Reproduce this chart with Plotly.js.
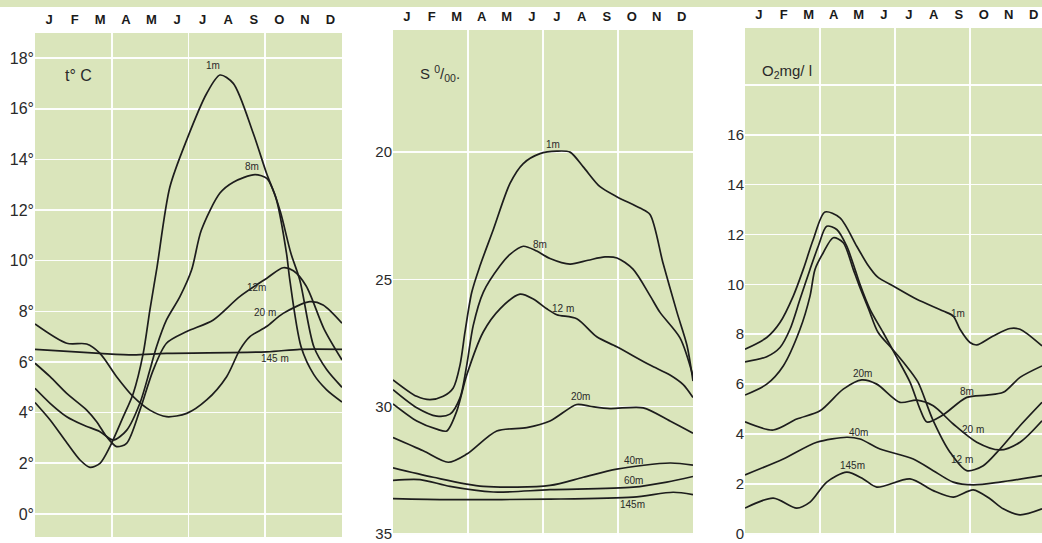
<!DOCTYPE html>
<html>
<head>
<meta charset="utf-8">
<script src="https://cdn.plot.ly/plotly-3.0.1.min.js"></script>
<style>
html,body{margin:0;padding:0;background:#fff;}
#chart{width:1042px;height:543px;}
</style>
</head>
<body>
<div id="chart"></div>
<script>
// ---------- data ----------
const months = ['J','F','M','A','M','J','J','A','S','O','N','D'];
const monthPos = [0.55,1.55,2.55,3.55,4.55,5.55,6.55,7.55,8.55,9.55,10.55,11.55];

// Temperature (°C)
const temp1mX = [0,0.6,1.25,1.76,2.15,2.54,2.93,3.45,3.84,4.23,4.49,4.77,5.27,5.93,6.71,7.23,7.75,8.53,9.05,9.44,9.83,9.96,10.4,10.9,11.4,12];
const temp1mY = [4.4,3.7,2.8,2.13,1.84,2.0,2.66,3.84,4.76,6.34,8.05,9.75,12.9,14.77,16.6,17.33,17.0,15.03,13.45,12.4,10.3,9.24,6.6,5.5,4.9,4.42];
const temp8mX = [0,0.59,1.24,1.89,2.54,3.06,3.58,4.1,4.49,4.75,5.14,5.66,6.12,6.5,7.23,7.75,8.6,9.06,9.3,9.6,10.0,10.35,10.9,11.4,12];
const temp8mY = [4.96,4.37,3.84,3.51,3.25,2.92,3.3,4.37,5.68,6.6,7.66,8.57,9.63,11.2,12.67,13.1,13.4,13.25,12.8,11.9,10.3,9.24,6.6,5.7,5.0];
const temp12mX = [0,0.59,1.24,2.02,2.41,2.8,3.19,3.58,4.1,4.62,5.14,5.93,6.97,8.0,9.05,9.7,10.1,10.6,11.3,12];
const temp12mY = [5.95,5.42,4.76,4.1,3.64,3.05,2.66,2.79,4.1,5.68,6.74,7.2,7.66,8.58,9.3,9.72,9.6,9.0,7.3,6.08];
const temp20mX = [0,1.24,2.02,2.54,3.19,3.84,4.49,5.14,5.93,6.71,7.49,8.0,8.4,9.05,9.7,10.74,11.26,12];
const temp20mY = [7.5,6.74,6.71,6.34,5.42,4.63,4.1,3.84,3.97,4.5,5.42,6.47,7.0,7.4,7.92,8.38,8.25,7.53];
const temp145mX = [0,2.54,3.84,5.14,9.05,10.35,12];
const temp145mY = [6.5,6.34,6.28,6.34,6.4,6.5,6.5];
const tempTicks = [0,2,4,6,8,10,12,14,16,18];
const tempTickText = ['0°','2°','4°','6°','8°','10°','12°','14°','16°','18°'];

// Salinity (‰)
const sal1mX = [0,0.95,1.48,2.01,2.41,2.68,2.88,3.15,3.48,4.01,4.68,5.21,5.88,6.55,7.08,7.61,8.28,8.95,9.88,10.28,10.8,11.36,11.76,12];
const sal1mY = [28.95,29.6,29.73,29.6,29.27,28.37,27.07,25.51,24.47,23.05,21.23,20.45,20.06,19.96,20.0,20.58,21.36,21.75,22.2,22.45,24.36,26.3,27.6,29.0];
const sal8mX = [0,0.95,1.75,2.28,2.68,2.95,3.21,3.61,4.28,4.68,5.21,5.75,6.28,7.08,7.8,8.48,8.96,9.6,10.28,10.68,11.48,12];
const sal8mY = [29.34,30.05,30.38,30.3,29.66,28.37,26.81,25.51,24.47,24.02,23.7,23.89,24.18,24.4,24.25,24.12,24.16,24.6,25.64,26.3,27.3,28.8];
const sal12mX = [0,0.95,1.75,2.15,2.55,2.95,3.61,4.28,5.08,5.61,6.15,6.55,7.35,8.15,8.95,10.28,11.08,11.61,12];
const sal12mY = [29.9,30.57,30.89,30.96,30.18,28.76,27.07,26.16,25.58,25.77,26.16,26.39,26.55,27.26,27.65,28.37,28.76,29.14,29.65];
const sal20mX = [0,1.21,2.21,2.95,4.15,5.35,6.28,7.35,7.88,8.68,10.01,11.08,12];
const sal20mY = [31.22,31.74,32.19,31.87,30.96,30.83,30.57,29.92,29.99,30.08,30.05,30.57,31.05];
const sal40mX = [0,1.61,3.61,6.28,7.61,8.95,11.08,12];
const sal40mY = [32.41,32.78,33.14,33.1,32.78,32.46,32.22,32.3];
const sal60mX = [0,1.08,2.28,4.01,6.28,9.61,10.95,12];
const sal60mY = [32.9,32.87,33.14,33.36,33.27,33.17,32.97,32.75];
const sal145mX = [0,2.28,6.28,9.61,11.21,12];
const sal145mY = [33.62,33.66,33.64,33.56,33.37,33.46];
const salTicks = [20,25,30,35];

// Oxygen (mg/l)
const oxy1mX = [0,0.87,1.4,1.93,2.33,2.73,3.2,3.8,4.47,4.9,5.3,5.93,6.87,7.93,8.33,8.6,9.0,9.27,9.93,10.6,11.0,11.88];
const oxy1mY = [7.4,7.87,8.47,9.53,10.6,11.8,12.9,12.67,11.53,10.8,10.3,9.93,9.4,8.93,8.73,8.2,7.67,7.57,7.93,8.23,8.2,7.53];
const oxy8mX = [0,0.87,1.4,1.8,2.2,2.6,2.93,3.27,3.67,4.07,4.4,4.6,5.0,5.52,6.0,6.6,7.0,7.28,7.9,8.87,9.67,10.33,11.0,11.88];
const oxy8mY = [6.89,7.1,7.47,8.2,9.4,10.6,11.53,12.33,12.2,11.53,10.6,10.0,9.0,8.08,7.2,6.08,5.0,4.48,4.75,5.47,5.56,5.67,6.27,6.73];
const oxy12mX = [0,0.87,1.53,2.2,2.6,2.8,3.13,3.53,3.93,4.33,4.55,4.95,5.32,5.9,6.4,6.92,7.5,8.2,8.87,9.53,10.2,11.0,11.88];
const oxy12mY = [5.56,6.0,6.73,8.2,9.53,10.6,11.27,11.87,11.67,10.6,10.0,9.0,8.08,7.4,6.8,6.08,4.6,3.27,2.53,2.73,3.4,4.33,5.27];
const oxy20mX = [0,1.13,2.07,3.0,3.93,4.67,5.27,6.2,6.87,7.53,8.33,9.27,10.2,11.0,11.88];
const oxy20mY = [4.49,4.16,4.6,4.93,5.8,6.17,6.0,5.27,5.36,5.13,4.4,3.67,3.36,3.67,4.53];
const oxy40mX = [0,1.53,2.87,4.07,4.6,5.4,6.73,7.53,8.33,9.13,10.2,11.88];
const oxy40mY = [2.36,3.0,3.67,3.87,3.8,3.4,3.0,2.53,2.07,1.96,2.07,2.33];
const oxy145mX = [0,1.13,2.07,2.6,3.27,4.07,4.73,5.27,6.6,7.53,8.33,9.13,9.8,10.33,11.0,11.88];
const oxy145mY = [1.03,1.43,1.03,1.27,2.07,2.47,2.2,1.87,2.2,1.73,1.47,1.76,1.4,1.0,0.76,1.0];
const oxyTicks = [0,2,4,6,8,10,12,14,16,18];
const oxyTickText = ['0','2','4','6','8','10','12','14','16',''];

// ---------- styling ----------
const GREEN = 'rgb(218,229,187)';
const INK = '#1d1d1d';
const FONT = 'Liberation Sans, Arial, sans-serif';

function line(x, y, xa, ya) {
  return {x: x, y: y, xaxis: xa, yaxis: ya, type: 'scatter', mode: 'lines',
    line: {shape: 'spline', smoothing: 0.8, color: INK, width: 1.7},
    hoverinfo: 'skip'};
}

const traces = [
  line(temp1mX, temp1mY, 'x', 'y'),
  line(temp8mX, temp8mY, 'x', 'y'),
  line(temp12mX, temp12mY, 'x', 'y'),
  line(temp20mX, temp20mY, 'x', 'y'),
  line(temp145mX, temp145mY, 'x', 'y'),
  line(sal1mX, sal1mY, 'x2', 'y2'),
  line(sal8mX, sal8mY, 'x2', 'y2'),
  line(sal12mX, sal12mY, 'x2', 'y2'),
  line(sal20mX, sal20mY, 'x2', 'y2'),
  line(sal40mX, sal40mY, 'x2', 'y2'),
  line(sal60mX, sal60mY, 'x2', 'y2'),
  line(sal145mX, sal145mY, 'x2', 'y2'),
  line(oxy1mX, oxy1mY, 'x3', 'y3'),
  line(oxy8mX, oxy8mY, 'x3', 'y3'),
  line(oxy12mX, oxy12mY, 'x3', 'y3'),
  line(oxy20mX, oxy20mY, 'x3', 'y3'),
  line(oxy40mX, oxy40mY, 'x3', 'y3'),
  line(oxy145mX, oxy145mY, 'x3', 'y3')
];

const W = 1042, H = 543;
function xd(a, b) { return [a / W, b / W]; }
function yd(top, bottom) { return [(H - bottom) / H, (H - top) / H]; }

function monthAxis(domain, range, anchor) {
  return {
    domain: domain, range: range, anchor: anchor, side: 'top',
    tickmode: 'array', tickvals: monthPos, ticktext: months,
    ticks: 'outside', ticklen: 3, tickcolor: 'rgba(0,0,0,0)',
    tickfont: {family: FONT, size: 13, color: '#1a1a1a', weight: 'bold'},
    showgrid: false, zeroline: false, showline: false, fixedrange: true,
    minor: {tickmode: 'linear', tick0: 0, dtick: 3, showgrid: true,
            gridcolor: 'rgba(255,255,255,0.95)', gridwidth: 1.6, ticks: ''}
  };
}
function valAxis(domain, range, anchor, tickvals, ticktext, fsize) {
  const ax = {
    domain: domain, range: range, anchor: anchor,
    tickmode: 'array', tickvals: tickvals,
    showgrid: true, gridcolor: 'rgba(255,255,255,0.95)', gridwidth: 1.6,
    zeroline: false, showline: false, ticks: '', fixedrange: true,
    tickfont: {family: FONT, size: fsize || 16, color: '#2a2a2a'}
  };
  if (ticktext) ax.ticktext = ticktext;
  return ax;
}

function lab(text, x, y, xr, yr, size, anchor) {
  return {text: text, x: x, y: y, xref: xr, yref: yr, showarrow: false,
    xanchor: anchor || 'center', yanchor: 'middle',
    font: {family: FONT, size: size || 10, color: '#2a2a2a'}};
}

const annotations = [
  lab('t° C', 1.7, 17.33, 'x', 'y', 16),
  lab('1m', 6.95, 17.7, 'x', 'y'),
  lab('8m', 8.48, 13.7, 'x', 'y'),
  lab('12m', 8.67, 8.96, 'x', 'y'),
  lab('20 m', 8.98, 7.94, 'x', 'y'),
  lab('145 m', 9.38, 6.12, 'x', 'y'),

  lab('S <sup>0</sup>/<sub>00</sub>.', 1.0, 16.9, 'x2', 'y2', 15, 'left'),
  lab('1m', 6.4, 19.69, 'x2', 'y2'),
  lab('8m', 5.88, 23.62, 'x2', 'y2'),
  lab('12 m', 6.8, 26.15, 'x2', 'y2'),
  lab('20m', 7.48, 29.6, 'x2', 'y2'),
  lab('40m', 9.6, 32.14, 'x2', 'y2'),
  lab('60m', 9.6, 32.92, 'x2', 'y2'),
  lab('145m', 9.56, 33.85, 'x2', 'y2'),

  lab('O<sub>2</sub>mg/ l', 0.6, 18.52, 'x3', 'y3', 15, 'left'),
  lab('1m', 8.52, 8.84, 'x3', 'y3'),
  lab('8m', 8.88, 5.72, 'x3', 'y3'),
  lab('20m', 4.68, 6.44, 'x3', 'y3'),
  lab('20 m', 9.12, 4.2, 'x3', 'y3'),
  lab('12 m', 8.68, 2.96, 'x3', 'y3'),
  lab('40m', 4.52, 4.08, 'x3', 'y3'),
  lab('145m', 4.28, 2.72, 'x3', 'y3')
];

const layout = {
  width: W, height: H,
  margin: {l: 0, r: 0, t: 0, b: 0, pad: 0},
  paper_bgcolor: '#ffffff', plot_bgcolor: GREEN,
  showlegend: false,
  font: {family: FONT},
  xaxis: monthAxis(xd(35, 342), [0, 12], 'y'),
  yaxis: valAxis(yd(33, 537), [-0.91, 18.99], 'x', tempTicks, tempTickText),
  xaxis2: monthAxis(xd(393, 693), [0, 12], 'y2'),
  yaxis2: valAxis(yd(30, 535), [35.05, 15.2], 'x2', salTicks, null, 15),
  xaxis3: monthAxis(xd(745, 1042), [0, 11.88], 'y3'),
  yaxis3: valAxis(yd(28, 535), [-0.05, 20.28], 'x3', oxyTicks, oxyTickText, 15),
  shapes: [
    {type: 'rect', xref: 'paper', yref: 'paper', x0: 0, x1: 1,
     y0: (H - 7) / H, y1: 1, fillcolor: GREEN, line: {width: 0}, layer: 'below'}
  ],
  annotations: annotations
};

Plotly.newPlot('chart', traces, layout, {displayModeBar: false, staticPlot: true});
</script>
</body>
</html>
